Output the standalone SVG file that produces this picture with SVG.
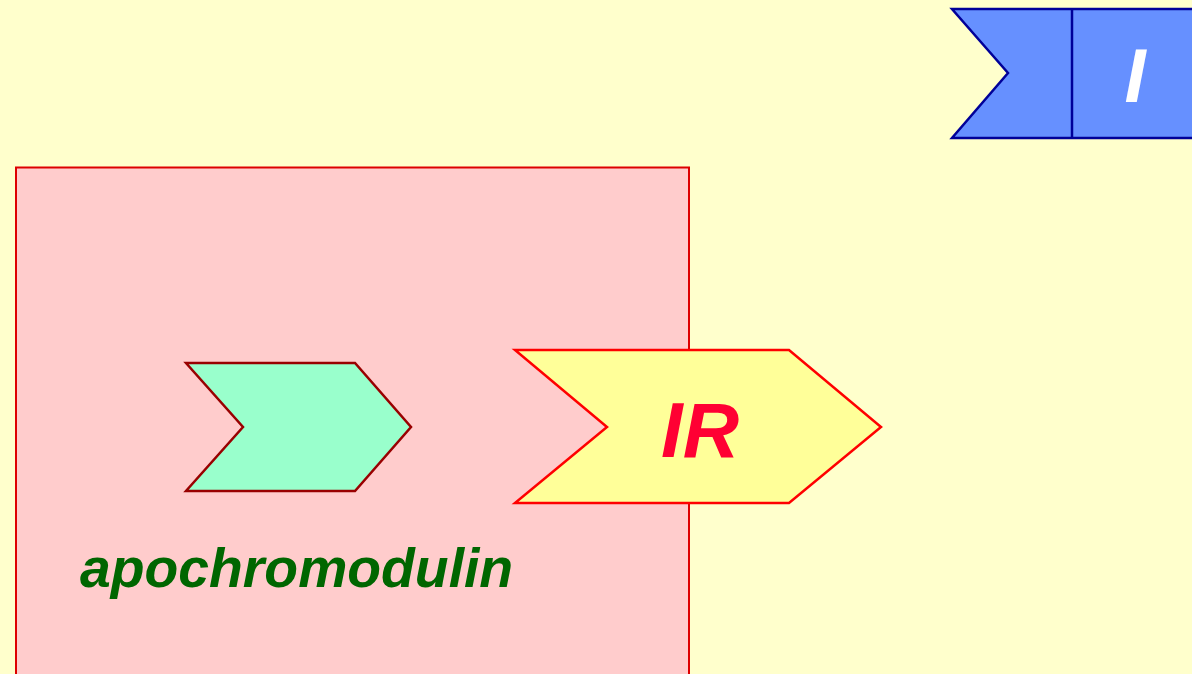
<svg xmlns="http://www.w3.org/2000/svg" width="1192" height="674" viewBox="0 0 1192 674">
<style>
.lbl{font-family:"Liberation Sans",Arial,sans-serif;font-weight:bold;font-style:italic}
</style>
<rect x="0" y="0" width="1192" height="674" fill="#ffffcc"/>
<g id="compartment">
<rect x="16" y="167.5" width="673" height="520" fill="#ffcccc" stroke="#dd0000" stroke-width="2"/>
<text class="lbl" x="80" y="587" font-size="55.3" fill="#006600">apochromodulin</text>
</g>
<g id="node-green">
<polygon points="186,363 355,363 411,427 355,491 186,491 243,427" fill="#99ffcc" stroke="#990000" stroke-width="2.5"/>
</g>
<g id="node-IR">
<polygon points="515,350 789,350 881,427 789,503 515,503 607,427" fill="#ffff99" stroke="#ff0000" stroke-width="2.5"/>
<text class="lbl" x="700" y="457" font-size="78" fill="#ff0033" text-anchor="middle">IR</text>
</g>
<g id="node-I">
<polygon points="952,9 1200,9 1200,138 952,138 1008,73" fill="#6690ff" stroke="#000099" stroke-width="2.5"/>
<line x1="1072" y1="9" x2="1072" y2="138" stroke="#000099" stroke-width="2.5"/>
<text class="lbl" x="1135" y="102" font-size="76" fill="#ffffff" text-anchor="middle">I</text>
</g>
<g id="connectors"/>
</svg>
